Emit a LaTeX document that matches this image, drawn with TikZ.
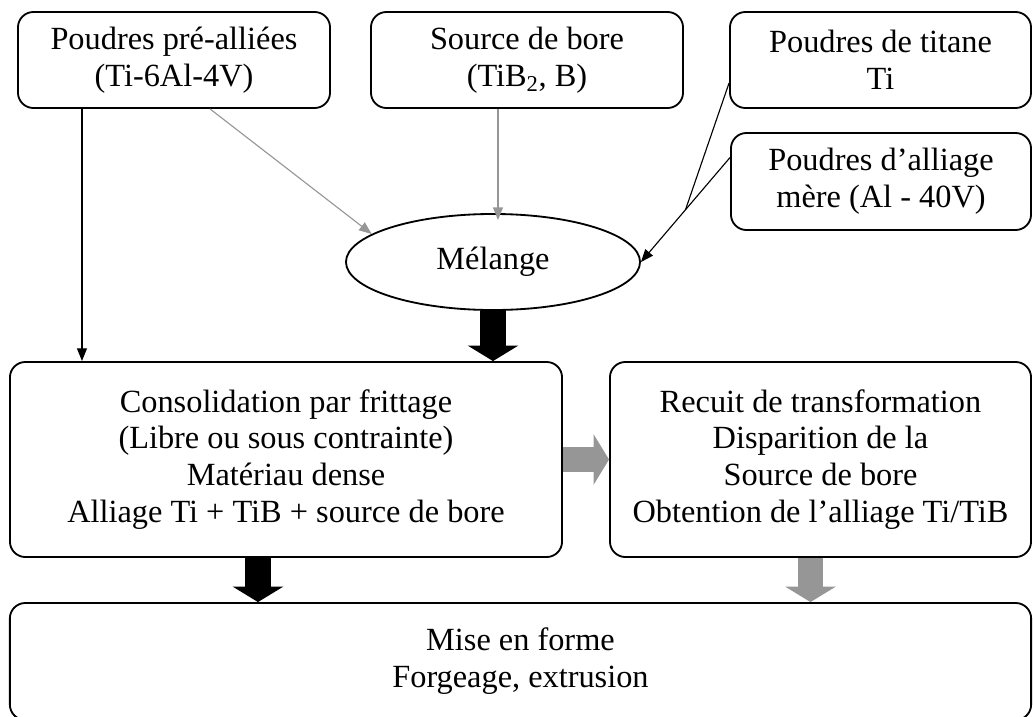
\documentclass[tikz,border=0pt]{standalone}
\usepackage{fontspec}
\setmainfont{Liberation Serif}
\usetikzlibrary{arrows.meta,shapes.geometric,calc}
\definecolor{arrowgray}{RGB}{150,150,150}
\tikzset{
  box/.style={draw,line width=1.3pt,rounded corners=11pt,align=center,inner sep=0pt,font=\fontsize{23}{26.2}\selectfont},
  link/.style={line width=0.8pt,-{Triangle[length=9pt,width=7pt]}},
  greylink/.style={link,draw=arrowgray},
  bigarrow/.style={line width=18pt,-{Triangle[length=11pt,width=36pt,line width=0pt]}},
}
\begin{document}
\begin{tikzpicture}[x=0.025cm,y=-0.025cm]
\useasboundingbox (0,0) rectangle (1033,717);

\node [box,minimum width=7.8cm,minimum height=2.4cm] (prealloy) at (174,60) {Poudres pré-alliées\\(Ti-6Al-4V)};
\node [box,minimum width=7.8cm,minimum height=2.4cm] (bore) at (527,60) {Source de bore\\(TiB\textsubscript{2}, B)};
\node [box,minimum width=7.525cm,minimum height=2.4cm] (titane) at (880.5,60) {Poudres de titane\\Ti};
\node [box,minimum width=7.5cm,minimum height=2.425cm] (mere) at (881,181.5) {Poudres d’alliage\\mère (Al - 40V)};
\node [box,ellipse,rounded corners=0pt,minimum width=7.35cm,minimum height=2.4cm] (melange) at (493,262) {Mélange};
\node [box,minimum width=13.8cm,minimum height=4.875cm] (consol) at (286,459.5) {Consolidation par frittage\\(Libre ou sous contrainte)\\Matériau dense\\Alliage Ti + TiB + source de bore};
\node [box,minimum width=10.525cm,minimum height=4.875cm] (recuit) at (820.5,459.5) {Recuit de transformation\\Disparition de la\\Source de bore\\Obtention de l’alliage Ti/TiB};
\node [box,minimum width=25.525cm,minimum height=2.925cm] (mise) at (520.5,661.5) {Mise en forme\\Forgeage, extrusion};

\draw [link] ([xshift=-2.3cm]prealloy.south) -- ([xshift=-2.3cm]prealloy.south |- consol.north);
\draw [greylink] ([xshift=0.9cm]prealloy.south) -- (melange.167);
\draw [greylink,shorten >=-5pt] ([xshift=-0.725cm]bore.south) -- ([xshift=-0.725cm]bore.south |- melange.north);
\coordinate (join) at ($([yshift=0.6cm]mere.west)!0.5!(melange.east)$);
\draw [link] ([yshift=0.6cm]mere.west) -- (melange.east);
\draw [line width=0.8pt] ([yshift=-0.575cm]titane.west) -- (join);

\draw [bigarrow] (melange.south) -- (melange.south |- consol.north);
\draw [bigarrow,draw=arrowgray] (consol.east) -- (recuit.west);
\draw [bigarrow] ([xshift=-0.7cm]consol.south) -- ([xshift=-0.7cm]consol.south |- mise.north);
\draw [bigarrow,draw=arrowgray] ([xshift=-0.25cm]recuit.south) -- ([xshift=-0.25cm]recuit.south |- mise.north);

\end{tikzpicture}
\end{document}
